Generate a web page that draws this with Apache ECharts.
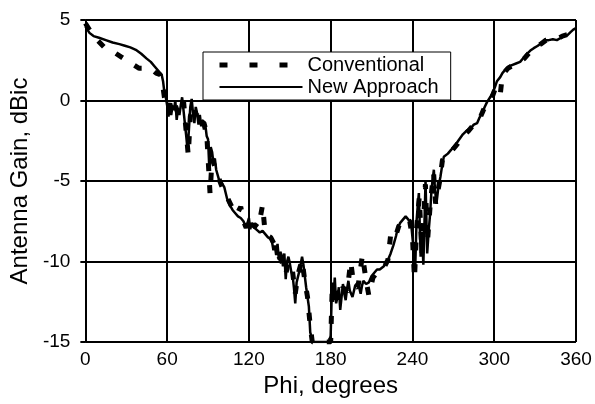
<!DOCTYPE html>
<html>
<head>
<meta charset="utf-8">
<script src="https://cdn.jsdelivr.net/npm/echarts@6/dist/echarts.min.js"></script>
<style>
  html, body { margin: 0; padding: 0; background: #fff; }
  #chart { width: 595px; height: 404px; }
</style>
</head>
<body>
<div id="chart"></div>
<script>
// Antenna gain vs phi, two methods
const xTicks = [0, 60, 120, 180, 240, 300, 360];
const yTicks = [-15, -10, -5, 0, 5];

// New Approach (thin solid line)
const phiNew = [0, 3, 6, 10, 15, 20, 25, 29, 33, 37, 41, 45, 48, 51, 54, 56, 57, 58, 59, 60,
  61, 62, 63, 64, 65, 66, 67, 68, 69, 70, 71, 72, 73, 74, 75, 76, 77, 78, 79, 80,
  81, 82, 83, 84, 85, 86, 87, 88, 89, 90, 91, 92, 93, 94, 95, 96, 98, 100, 102, 104,
  106, 108, 110, 112, 114, 116, 118, 120, 121, 122, 124, 126, 128, 130, 132, 134, 136, 137, 138, 139,
  140, 141, 142, 143, 144, 145, 146, 147, 148, 149, 150, 151, 152, 153, 154, 155, 157, 159, 160, 162,
  164, 165, 167, 170, 175, 179, 180, 181, 182, 183, 184, 185, 186, 187, 188, 189, 190, 191, 192, 193,
  194, 196, 198, 200, 202, 203, 204, 206, 208, 210, 212, 214, 216, 219, 222, 224, 226, 228, 229, 231,
  233, 235, 237, 239, 240, 241, 242, 243, 244, 244.7, 246, 247, 248, 249, 249.6, 250.8, 252, 253, 254, 255.7,
  256.5, 257.6, 259, 260.5, 261.5, 263, 266, 268, 270, 272, 274, 277, 280, 283, 285, 287.5, 289, 291, 293, 294.7,
  297, 299, 300.6, 302, 304.4, 306, 308, 310.4, 313, 316, 319, 322, 324, 326.5, 329, 332, 335, 337.5, 340, 343,
  346, 349, 351, 353.6, 356, 358, 360];
const gainNew = [4.6, 4.2, 4.0, 3.9, 3.75, 3.6, 3.5, 3.4, 3.3, 3.15, 2.9, 2.6, 2.4, 2.1, 1.8, 1.6, 1.2, 0.5, 0.2, -0.3,
  -1.0, -0.2, -0.9, -0.3, -0.6, 0.0, -1.2, -0.5, -0.9, -0.3, 0.2, -0.6, -1.4, -2.2, -3.1, -1.8, -0.4, 0.1, -0.8, -1.4,
  -0.4, -0.8, -1.5, -0.9, -1.6, -1.2, -1.8, -1.5, -2.2, -2.4, -4.3, -2.9, -3.2, -3.9, -3.6, -4.3, -4.9, -5.1, -5.4, -6.1,
  -6.5, -6.8, -7.0, -7.2, -7.3, -7.5, -7.9, -7.3, -8.0, -7.6, -7.9, -8.05, -8.2, -8.1, -8.3, -8.5, -8.6, -8.8, -9.3, -9.0,
  -9.6, -8.9, -9.9, -9.4, -9.6, -10.3, -9.5, -11.1, -10.0, -9.7, -10.1, -10.6, -10.8, -11.6, -12.6, -11.3, -10.6, -9.7, -10.2, -11.6,
  -12.8, -14.4, -15, -15, -15, -15, -14.6, -11.3, -12.4, -11.0, -12.6, -12.2, -11.6, -13.0, -12.2, -11.4, -12.0, -12.4, -11.7, -11.2,
  -11.8, -12.2, -11.5, -11.3, -12.0, -11.5, -11.2, -11.4, -11.3, -10.9, -10.7, -10.5, -10.5, -10.3, -9.9, -9.5, -9.0, -8.4, -8.0, -7.6,
  -7.4, -7.2, -7.4, -7.6, -8.5, -9.4, -10.5, -7.5, -6.4, -5.75, -9.7, -8.2, -10.2, -7.0, -4.95, -9.5, -8.0, -7.0, -5.5, -4.3,
  -5.5, -6.4, -5.4, -4.75, -4.2, -3.5, -3.3, -3.1, -2.9, -2.7, -2.45, -2.1, -1.85, -1.7, -1.5, -1.4, -1.1, -0.8, -0.4, -0.1,
  0.2, 0.5, 0.85, 1.2, 1.45, 1.7, 1.9, 2.1, 2.2, 2.3, 2.4, 2.7, 2.9, 3.1, 3.25, 3.4, 3.6, 3.75, 3.75, 3.8,
  3.75, 3.9, 4.0, 4.05, 4.25, 4.4, 4.5];

// Conventional (thick dashed line)
const phiConv = [0, 6, 14, 21, 30, 39.5, 48, 52, 55, 57, 58, 60, 62, 64, 66, 68, 70, 72, 73, 75.5,
  77, 79, 81, 83, 85, 87, 89, 91.5, 93, 96, 100, 104, 108, 111, 114, 116, 118, 120, 122, 124,
  127, 130, 132, 136, 139, 141, 143, 145, 147, 149, 152, 154, 156, 159, 161, 163, 165, 166.5, 180, 181,
  183, 186, 189, 192, 194.7, 197, 200, 203.3, 206, 208, 211, 215, 219, 222, 224, 227, 230, 234, 238, 240,
  241.5, 243, 245, 247, 249.5, 251, 253, 255.5, 257, 260, 262, 265, 269, 273, 277, 281, 285, 289, 292, 295,
  298, 301, 304.4, 306, 310, 314, 318, 322, 326, 330, 334, 338, 342, 346, 350, 354, 357, 360];
const gainConv = [4.8, 4.0, 3.3, 3.0, 2.5, 2.0, 2.0, 1.7, 1.6, 0.8, 0.2, -0.5, -0.2, -0.8, -0.3, -0.8, -0.4, 0.0, -1.0, -3.4,
  -1.0, -0.3, -0.9, -0.6, -1.3, -1.4, -2.0, -5.8, -3.6, -4.4, -5.3, -6.0, -6.7, -7.1, -6.6, -7.5, -7.9, -7.4, -7.9, -7.7,
  -7.9, -6.5, -8.3, -8.5, -9.0, -9.6, -9.8, -10.2, -10.8, -10.0, -10.6, -12.0, -10.8, -9.9, -11.2, -12.2, -14.0, -15, -15, -12.0,
  -11.5, -12.4, -11.6, -11.9, -10.0, -11.5, -11.6, -9.6, -11.2, -12.1, -11.0, -10.6, -10.4, -9.9, -8.35, -8.6, -7.8, -7.3, -7.5, -8.5,
  -11.1, -8.0, -6.0, -9.5, -5.2, -8.8, -6.5, -4.5, -6.4, -5.0, -3.7, -3.4, -3.1, -2.7, -2.2, -1.9, -1.5, -1.2, -0.6, -0.1,
  0.1, 0.8, 0.35, 1.6, 2.0, 2.2, 2.4, 2.6, 3.0, 3.3, 3.5, 3.75, 3.8, 3.8, 4.0, 4.1, 4.3, 4.4];

const FONT = 'Arial, "Liberation Sans", sans-serif';
const zip = (xs, ys) => xs.map((x, i) => [x, ys[i]]);
// legend icon symbol hidden, only the line sample stays
const hiddenSymbol = { color: 'rgba(0,0,0,0)', borderColor: 'rgba(0,0,0,0)', borderWidth: 0, opacity: 0 };

const chart = echarts.init(document.getElementById('chart'), null, { renderer: 'canvas' });

const option = {
  backgroundColor: '#fff',
  animation: false,
  grid: { left: 84, right: 19, top: 20, bottom: 62 },
  legend: {
    left: 203,
    top: 52,
    orient: 'vertical',
    backgroundColor: '#fff',
    borderColor: '#000',
    borderWidth: 1,
    borderRadius: 0,
    padding: [3, 12, 3, 14],
    itemGap: 2,
    itemWidth: 83,
    itemHeight: 14,
    textStyle: { fontFamily: FONT, fontSize: 20, color: '#000' },
    data: [
      { name: 'Conventional', itemStyle: hiddenSymbol, lineStyle: { color: '#000', width: 5, type: [8, 22] } },
      { name: 'New Approach', itemStyle: hiddenSymbol, lineStyle: { color: '#000', width: 2 } }
    ]
  },
  xAxis: {
    type: 'value',
    min: 0,
    max: 360,
    interval: 60,
    name: 'Phi, degrees',
    nameLocation: 'middle',
    nameGap: 30,
    nameTextStyle: { fontFamily: FONT, fontSize: 24, color: '#000' },
    axisLine: { lineStyle: { color: '#000', width: 2 } },
    axisTick: { show: true, length: 5, lineStyle: { color: '#000', width: 2 } },
    axisLabel: { fontFamily: FONT, fontSize: 19, color: '#000', margin: 8 },
    splitLine: { show: true, lineStyle: { color: '#000', width: 2 } }
  },
  yAxis: {
    type: 'value',
    min: -15,
    max: 5,
    interval: 5,
    name: 'Antenna Gain, dBic',
    nameLocation: 'middle',
    nameRotate: 90,
    nameGap: 48,
    nameTextStyle: { fontFamily: FONT, fontSize: 24, color: '#000' },
    axisLine: { lineStyle: { color: '#000', width: 2 } },
    axisTick: { show: true, length: 5, lineStyle: { color: '#000', width: 2 } },
    axisLabel: { fontFamily: FONT, fontSize: 19, color: '#000', margin: 15 },
    splitLine: { show: true, lineStyle: { color: '#000', width: 2 } }
  },
  series: [
    {
      name: 'Conventional',
      type: 'line',
      data: zip(phiConv, gainConv),
      showSymbol: false,
      symbol: 'none',
      clip: true,
      lineStyle: { color: '#000', width: 5, type: [8, 14] },
      itemStyle: { color: '#000' },
      z: 3
    },
    {
      name: 'New Approach',
      type: 'line',
      data: zip(phiNew, gainNew),
      showSymbol: false,
      symbol: 'none',
      clip: true,
      lineStyle: { color: '#000', width: 2.5 },
      itemStyle: { color: '#000' },
      z: 4
    }
  ]
};

chart.setOption(option);
</script>
</body>
</html>
